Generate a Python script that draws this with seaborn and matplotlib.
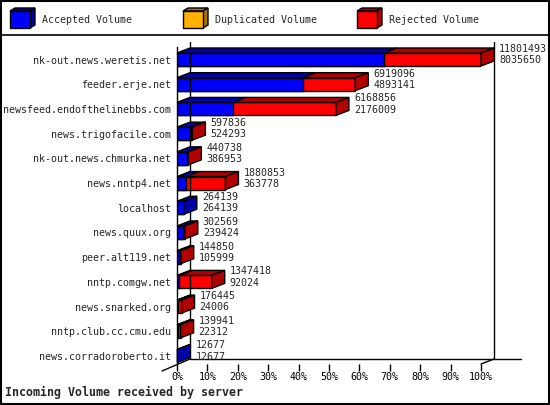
import numpy as np
import pandas as pd
import matplotlib
matplotlib.use("Agg")
import matplotlib.pyplot as plt
import seaborn as sns
from matplotlib.patches import Polygon, Rectangle
from matplotlib.lines import Line2D

# data
servers = [
    "nk-out.news.weretis.net", "feeder.erje.net", "newsfeed.endofthelinebbs.com",
    "news.trigofacile.com", "nk-out.news.chmurka.net", "news.nntp4.net",
    "localhost", "news.quux.org", "peer.alt119.net", "nntp.comgw.net",
    "news.snarked.org", "nntp.club.cc.cmu.edu", "news.corradoroberto.it",
]
total_volume = [11801493, 6919096, 6168856, 597836, 440738, 1880853,
                264139, 302569, 144850, 1347418, 176445, 139941, 12677]
accepted_volume = [8035650, 4893141, 2176009, 524293, 386953, 363778,
                   264139, 239424, 105999, 92024, 24006, 22312, 12677]
series_names = ["Accepted Volume", "Duplicated Volume", "Rejected Volume"]
series_colors = ["#0000ff", "#ffb000", "#ff0000"]
series_dark = ["#0000a8", "#a87400", "#b00000"]
x_ticks = list(range(0, 101, 10))
x_tick_labels = [f"{t}%" for t in x_ticks]

W, H = 550, 405
MONO = "DejaVu Sans Mono"
FS = 7.2


def main():
    sns.set_style("white")
    plt.rcParams["font.family"] = [MONO]

    top_max = max(total_volume)
    df = pd.DataFrame({
        "server": servers,
        "total_pct": [t / top_max * 100 for t in total_volume],
        "acc_pct": [a / top_max * 100 for a in accepted_volume],
    })

    fig = plt.figure(figsize=(W / 100, H / 100), dpi=100)
    fig.patch.set_facecolor("white")

    # front plane of the plot in pixels
    px_left, px_right = 177, 481
    px_top, px_bot = 47, 364
    ax = fig.add_axes([px_left / W, 1 - px_bot / H,
                       (px_right - px_left) / W, (px_bot - px_top) / H])

    row0, row_step = 59.5, 24.71
    ylim_top = -(row0 - px_top) / row_step
    ylim_bot = (len(servers) - 1) + (px_bot - (row0 + row_step * (len(servers) - 1))) / row_step
    xscale = (px_right - px_left) / 100.0
    DX = 13 / xscale          # depth in data units
    DY = 5 / row_step
    bh = 13 / row_step

    sns.barplot(data=df, x="total_pct", y="server", color=series_colors[2],
                saturation=1, width=bh, edgecolor="black", linewidth=1, ax=ax,
                orient="h")
    sns.barplot(data=df, x="acc_pct", y="server", color=series_colors[0],
                saturation=1, width=bh, edgecolor="black", linewidth=1, ax=ax,
                orient="h")

    ax.set_xlim(0, 100)
    ax.set_ylim(ylim_bot, ylim_top)

    # 3d top and side faces
    for i, row in df.iterrows():
        yt = i - bh / 2
        yb = i + bh / 2
        a, t = row["acc_pct"], row["total_pct"]
        segs = [(0, a, series_dark[0])]
        if t > a:
            segs.append((a, t, series_dark[2]))
        for x0, x1, c in segs:
            ax.add_patch(Polygon([(x0, yt), (x0 + DX, yt - DY), (x1 + DX, yt - DY), (x1, yt)],
                                 closed=True, facecolor=c, edgecolor="black",
                                 linewidth=1, clip_on=False, zorder=3))
        side_c = series_dark[2] if t > a else series_dark[0]
        ax.add_patch(Polygon([(t, yt), (t + DX, yt - DY), (t + DX, yb - DY), (t, yb)],
                             closed=True, facecolor=side_c, edgecolor="black",
                             linewidth=1, clip_on=False, zorder=3))
        ax.text(t + DX + 5 / xscale, i - 0.2, f"{total_volume[i]}\n{accepted_volume[i]}",
                ha="left", va="center", fontsize=FS, linespacing=1.15,
                family=MONO, clip_on=False, zorder=4)

    # back wall / floor lines
    yb_back = ylim_bot - DY
    yt_back = ylim_top - DY
    lk = dict(color="black", linewidth=1, clip_on=False, zorder=1)
    ax.add_line(Line2D([DX, DX], [yt_back, yb_back], **lk))
    ax.add_line(Line2D([100 + DX, 100 + DX], [yt_back, yb_back], **lk))
    ax.add_line(Line2D([DX, 100 + DX + 27 / xscale], [yb_back, yb_back], **lk))
    ax.add_line(Line2D([DX, -15 / xscale], [yb_back, ylim_bot + 7 / row_step], **lk))
    ax.add_line(Line2D([100, 100 + DX], [ylim_bot, yb_back], **lk))

    for s in ["top", "right", "bottom"]:
        ax.spines[s].set_visible(False)
    ax.spines["left"].set_color("black")
    ax.spines["left"].set_linewidth(1)
    ax.set_xticks(x_ticks)
    ax.set_xticklabels(x_tick_labels)
    ax.tick_params(axis="x", length=5, width=1, direction="out", pad=1,
                   labelsize=FS, colors="black", bottom=True)
    ax.tick_params(axis="y", length=0, pad=4, labelsize=FS)
    ax.set_xlabel("")
    ax.set_ylabel("")
    ax.set_facecolor("none")

    fig.text(5 / W, 1 - 392 / H, "Incoming Volume received by server",
             ha="left", va="center", fontsize=8.4, weight="bold", family=MONO)

    # legend strip
    lax = fig.add_axes([0, 1 - 35 / H, 1, 35 / H])
    lax.set_xlim(0, W)
    lax.set_ylim(35, 0)
    lax.axis("off")
    for name, c, dc, x0 in zip(series_names, series_colors, series_dark, [10, 183, 357]):
        lax.add_patch(Polygon([(x0, 11), (x0 + 5, 8), (x0 + 25, 8), (x0 + 20, 11)],
                              facecolor=dc, edgecolor="black", linewidth=1))
        lax.add_patch(Polygon([(x0 + 20, 11), (x0 + 25, 8), (x0 + 25, 25), (x0 + 20, 28)],
                              facecolor=dc, edgecolor="black", linewidth=1))
        lax.add_patch(Rectangle((x0, 11), 20, 17, facecolor=c, edgecolor="black", linewidth=1))
        lax.text(x0 + 32, 20, name, ha="left", va="center", fontsize=FS, family=MONO)

    fig.add_artist(Line2D([0, 1], [1 - 35 / H, 1 - 35 / H], color="black", linewidth=1.2,
                          transform=fig.transFigure))
    fig.add_artist(Rectangle((0.001, 0.002), 0.997, 0.996, fill=False, edgecolor="black",
                             linewidth=1.5, transform=fig.transFigure))

    fig.savefig("out.png", dpi=100)


if __name__ == "__main__":
    main()
